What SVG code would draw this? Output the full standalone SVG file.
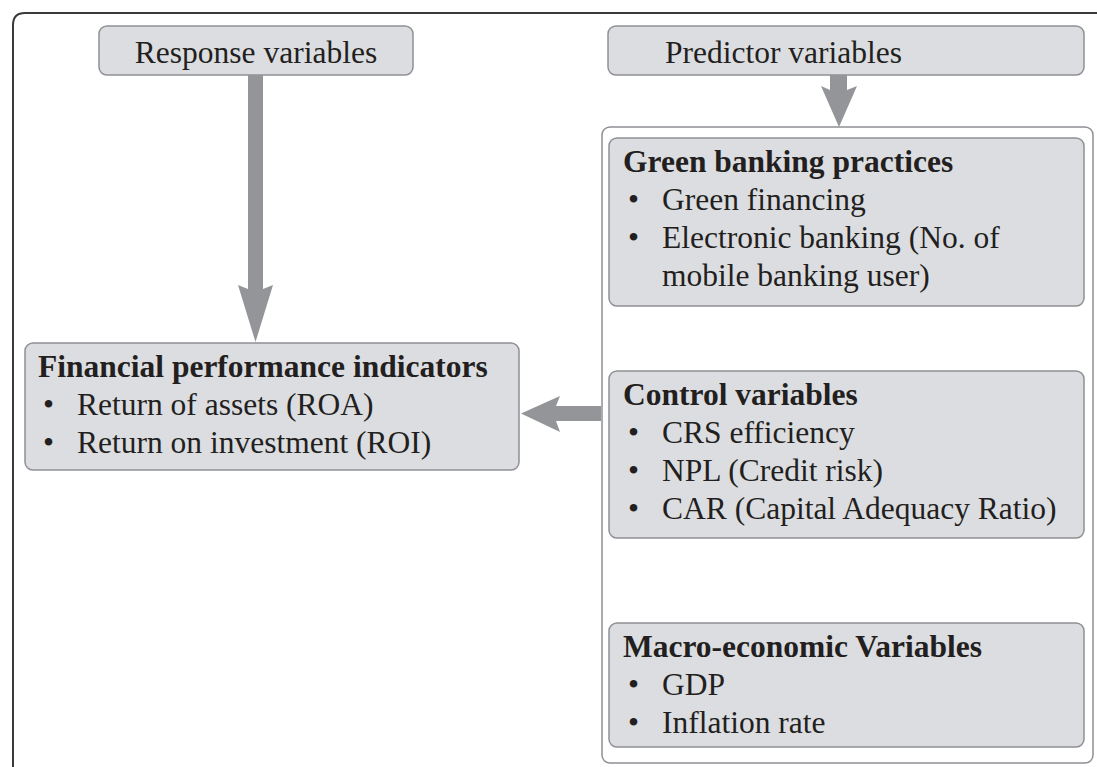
<svg xmlns="http://www.w3.org/2000/svg" width="1097" height="767" viewBox="0 0 1097 767">
<style>
.box{fill:#dcdde0;stroke:#8f9094;stroke-width:1.5}
.cont{fill:#ffffff;stroke:#8f9094;stroke-width:1.5}
.arr{fill:#939598;stroke:none}
text{font-family:"Liberation Serif","Times New Roman",serif;fill:#231f20;font-size:31.5px}
.t{font-weight:bold}
</style>
<rect width="1097" height="767" fill="#ffffff"/>
<path d="M13,767 V25 Q13,13 25,13 H1097" fill="none" stroke="#3a3a3a" stroke-width="2"/>
<g id="response">
<rect class="box" x="99" y="26" width="314" height="49" rx="8"/>
<text x="256" y="63" text-anchor="middle">Response variables</text>
</g>
<g id="predictor">
<rect class="box" x="608" y="26" width="476" height="49" rx="8"/>
<text x="665" y="63">Predictor variables</text>
</g>
<g id="predictor-group">
<rect class="cont" x="602" y="127" width="491" height="636" rx="8"/>
</g>
<g id="green">
<rect class="box" x="609" y="138" width="475" height="168" rx="8"/>
<text class="t" x="623" y="172">Green banking practices</text>
<text x="628" y="210">•</text><text x="662" y="210">Green financing</text>
<text x="628" y="248">•</text><text x="662" y="248">Electronic banking (No. of</text>
<text x="662" y="286">mobile banking user)</text>
</g>
<g id="control">
<rect class="box" x="609" y="371" width="475" height="167" rx="8"/>
<text class="t" x="623" y="405">Control variables</text>
<text x="628" y="443">•</text><text x="662" y="443">CRS efficiency</text>
<text x="628" y="481">•</text><text x="662" y="481">NPL (Credit risk)</text>
<text x="628" y="519">•</text><text x="662" y="519">CAR (Capital Adequacy Ratio)</text>
</g>
<g id="macro">
<rect class="box" x="609" y="623" width="475" height="124" rx="8"/>
<text class="t" x="623" y="657">Macro-economic Variables</text>
<text x="628" y="695">•</text><text x="662" y="695">GDP</text>
<text x="628" y="733">•</text><text x="662" y="733">Inflation rate</text>
</g>
<g id="financial">
<rect class="box" x="25" y="343" width="494" height="127" rx="8"/>
<text class="t" x="38" y="377">Financial performance indicators</text>
<text x="43" y="415">•</text><text x="77" y="415">Return of assets (ROA)</text>
<text x="43" y="453">•</text><text x="77" y="453">Return on investment (ROI)</text>
</g>
<g id="connectors">
<polygon class="arr" points="248,75 263,75 263,289 273,285 255.5,342 238,285 248,289"/>
<polygon class="arr" points="830,75 847,75 847,90 857,86 839,127 821,86 830,90"/>
<polygon class="arr" points="601,406 601,421 556,421 560,432 521,413.5 560,396 556,406"/>
</g>
</svg>
